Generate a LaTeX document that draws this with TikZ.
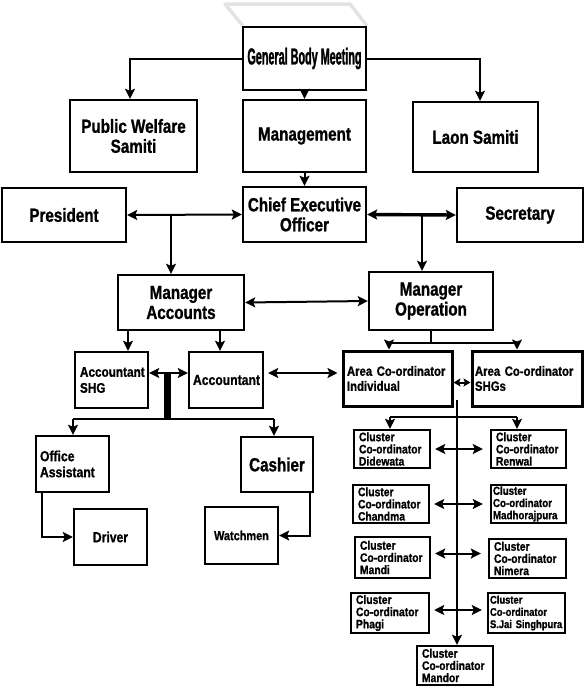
\documentclass[tikz,border=0pt]{standalone}
\usepackage{fontspec}
\usetikzlibrary{arrows.meta}
\newfontfamily\nf[FakeStretch=0.8,FakeBold=1]{Liberation Sans}
\newfontfamily\gf[FakeStretch=0.47,FakeBold=1.2]{Liberation Sans}
\newfontfamily\smf[FakeStretch=0.84,FakeBold=1]{Liberation Sans}
\begin{document}
\begin{tikzpicture}[x=1pt,y=-1pt,
  box/.style={draw, line width=2.4pt, inner sep=0pt, align=center,
    font=\nf\bfseries\fontsize{19}{20}\selectfont},
  sbox/.style={draw, line width=2.4pt, inner xsep=6pt, inner ysep=0pt, align=left,
    font=\smf\bfseries\fontsize{14}{16}\selectfont},
  abox/.style={draw, line width=3pt, inner xsep=5pt, inner ysep=0pt, align=left,
    font=\smf\bfseries\fontsize{13.5}{15}\selectfont},
  cbox/.style={draw, line width=2.4pt, inner xsep=6pt, inner ysep=0pt, align=left,
    font=\smf\bfseries\fontsize{12.3}{12.2}\selectfont},
  wire/.style={line width=2pt},
  arr/.style={wire, -{Stealth[length=10pt,width=10pt,inset=2pt]}},
  darr/.style={wire, {Stealth[length=10pt,width=10pt,inset=2pt]}-{Stealth[length=10pt,width=10pt,inset=2pt]}},
  sdarr/.style={wire, {Stealth[length=7pt,width=8pt,inset=1.5pt]}-{Stealth[length=7pt,width=8pt,inset=1.5pt]}}
]
\useasboundingbox (0,0) rectangle (584,688);
% faint grey shape above the top box
\draw[gray!22, line width=3.5pt, line join=round] (243,26) -- (225,4) -- (350,4) -- (367,26);

% top rows
\node[box, minimum width=123pt, minimum height=63pt,
  font=\gf\bfseries\fontsize{23}{24}\selectfont] (gbm) at (304.5,58.5) {General Body Meeting};
\node[box, minimum width=127pt, minimum height=72pt] (pw) at (133.5,136) {Public Welfare\\Samiti};
\node[box, minimum width=123pt, minimum height=72pt] (mgmt) at (304.5,136) {Management};
\node[box, minimum width=125pt, minimum height=70pt] (laon) at (475.5,137) {Laon Samiti};

\node[box, minimum width=124pt, minimum height=54pt] (pres) at (64,215) {President};
\node[box, minimum width=123pt, minimum height=55pt] (ceo) at (304.5,214.5) {Chief Executive\\Officer};
\node[box, minimum width=126pt, minimum height=54pt] (sec) at (520,215) {Secretary};

\node[box, minimum width=126pt, minimum height=55pt] (ma) at (181,302.5) {Manager\\Accounts};
\node[box, minimum width=124pt, minimum height=58pt] (mo) at (431,301) {Manager\\Operation};

% accounts side
\node[sbox, minimum height=56pt, text width=63pt, inner xsep=5pt] (accshg) at (111.5,380) {Accountant\\SHG};
\node[sbox, minimum height=56pt, text width=66pt, inner xsep=4pt,
  font=\smf\bfseries\fontsize{14.5}{16}\selectfont] (acc) at (226,380) {Accountant};
\node[sbox, minimum height=56pt, text width=65pt, inner xsep=4pt,
  font=\smf\bfseries\fontsize{14.5}{16}\selectfont] (oa) at (72.5,464) {Office\\Assistant};
\node[box, minimum width=72pt, minimum height=55pt] (cash) at (277,464.5) {Cashier};
\node[box, minimum width=73pt, minimum height=56pt,
  font=\smf\bfseries\fontsize{14.5}{16}\selectfont] (drv) at (110.5,537) {Driver};
\node[box, minimum width=73pt, minimum height=57pt,
  font=\smf\bfseries\fontsize{13}{15}\selectfont] (wat) at (241.5,535.5) {Watchmen};

% operation side
\node[abox, minimum height=55pt, text width=101pt, inner xsep=4pt] (aci) at (397.5,378.5) {Area Co-ordinator\\Individual};
\node[abox, minimum height=55pt, text width=104pt, inner xsep=3pt] (acs) at (527,378.5) {Area Co-ordinator\\SHGs};

\node[cbox, minimum height=38pt, text width=66pt, inner xsep=5pt] (did) at (392,449) {Cluster\\Co-ordinator\\Didewata};
\node[cbox, minimum height=38pt, text width=65pt, inner xsep=5pt] (ren) at (528.5,449) {Cluster\\Co-ordinator\\Renwal};
\node[cbox, minimum height=38pt, text width=66pt, inner xsep=5pt] (cha) at (391,504) {Cluster\\Co-ordinator\\Chandma};
\node[cbox, minimum height=38pt, text width=71pt, inner xsep=2pt,
  font=\smf\bfseries\fontsize{11.6}{12.2}\selectfont] (mad) at (528.5,504) {Cluster\\Co-ordinator\\Madhorajpura};
\node[cbox, minimum height=41pt, text width=65pt, inner xsep=5pt] (man) at (392.5,557.5) {Cluster\\Co-ordinator\\Mandi};
\node[cbox, minimum height=39pt, text width=67pt, inner xsep=5pt] (nim) at (527.5,558.5) {Cluster\\Co-ordinator\\Nimera};
\node[cbox, minimum height=40pt, text width=68pt, inner xsep=5pt] (pha) at (390,613) {Cluster\\Co-ordinator\\Phagi};
\node[cbox, minimum height=40pt, text width=73pt, inner xsep=2pt,
  font=\smf\bfseries\fontsize{11.2}{12.2}\selectfont] (sjs) at (526.5,613) {Cluster\\Co-ordinator\\S.Jai Singhpura};
\node[cbox, minimum height=39pt, text width=66pt, inner xsep=5pt] (mdr) at (455,665.5) {Cluster\\Co-ordinator\\Mandor};

% helper coordinates
\coordinate (xpw) at (130,0);
\coordinate (xlaon) at (480,0);
\coordinate (j1) at (171,215);
\coordinate (j2) at (422,215);
\coordinate (xa1) at (128,0);
\coordinate (xa2) at (220,0);
\coordinate (t1) at (167,374);
\coordinate (t2) at (167,419);
\coordinate (hl) at (73,419);
\coordinate (hr) at (274,419);
\coordinate (xoa) at (42,0);
\coordinate (xca) at (310,0);
\coordinate (m1) at (431,343);
\coordinate (ml) at (389,343);
\coordinate (mr) at (517,343);
\coordinate (s0) at (457,400);
\coordinate (cl) at (390,417);
\coordinate (cr) at (517,417);

% top connectors
\draw[arr] (gbm.west) -| (pw.north -| xpw);
\draw[arr] (gbm.east) -| (laon.north -| xlaon);
\draw[arr] (gbm) -- (mgmt);
\draw[arr] (mgmt) -- (ceo);
\draw[darr] (pres.east) -- (ceo.west);
\draw[darr, line width=3.4pt] (ceo.east) -- (sec.west);
\draw[arr] (j1) -- (j1 |- ma.north);
\draw[arr, line width=2.4pt] (j2) -- (j2 |- mo.north);
\draw[darr] (ma.east) -- (mo.west);

% accounts connectors
\draw[arr] (ma.south -| xa1) -- (accshg.north -| xa1);
\draw[arr] (ma.south -| xa2) -- (acc.north -| xa2);
\draw[darr] ([yshift=7pt]accshg.east) -- ([yshift=7pt]acc.west);
\draw[line width=7pt] (t1) -- (t2);
\draw[line width=2.6pt] (hl) -- (hr);
\draw[arr] (hl) -- (hl |- oa.north);
\draw[arr] (hr) -- (hr |- cash.north);
\draw[arr] (oa.south -| xoa) |- (drv.west);
\draw[arr] (cash.south -| xca) |- (wat.east);
\draw[darr, shorten <=4pt, shorten >=4pt] ([yshift=7pt]acc.east) -- ([yshift=7pt]acc.east -| aci.west);

% operation connectors
\draw[wire] (mo.south) -- (m1);
\draw[wire] (ml) -- (mr);
\draw[arr, line width=1.6pt] (ml) -- (ml |- aci.north);
\draw[arr, line width=1.6pt] (mr) -- (mr |- acs.north);
\draw[sdarr] ([yshift=-4pt]aci.east) -- ([yshift=-4pt]acs.west);
\draw[arr] (s0) -- (s0 |- mdr.north);
\draw[wire] (cl) -- (cr);
\draw[arr, line width=1.6pt] (cl) -- (cl |- did.north);
\draw[arr, line width=1.6pt] (cr) -- (cr |- ren.north);
\draw[darr, shorten <=4pt, shorten >=7pt] (did.east) -- (did.east -| ren.west);
\draw[darr, shorten <=4pt, shorten >=7pt] (cha.east) -- (cha.east -| mad.west);
\draw[darr, shorten <=4pt, shorten >=7pt] ([yshift=4pt]man.east) -- ([yshift=4pt]man.east -| nim.west);
\draw[darr, shorten <=4pt, shorten >=5pt] ([yshift=3pt]pha.east) -- ([yshift=3pt]pha.east -| sjs.west);
\end{tikzpicture}
\end{document}
